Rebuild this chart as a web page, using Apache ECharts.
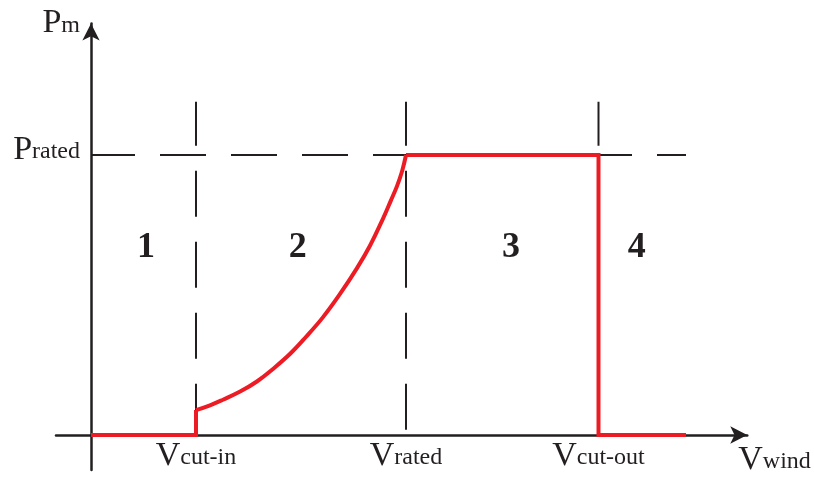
<!DOCTYPE html>
<html>
<head>
<meta charset="utf-8">
<title>Wind turbine power curve</title>
<script src="https://cdn.jsdelivr.net/npm/echarts@6/dist/echarts.min.js"></script>
<style>
  html, body { margin: 0; padding: 0; background: #fff; }
  #chart { width: 814px; height: 477px; }
</style>
</head>
<body>
<div id="chart"></div>
<script>
// wind speed in arbitrary units, power normalised so that P_rated = 1
const V_CUT_IN = 3;
const V_RATED = 9;
const V_CUT_OUT = 14.5;
const V_END = 17;
const P_RATED = 1;

// red power curve
const belowCutIn = [[0, 0], [3, 0], [3, 0.089]];
const rampCurve = [
  [3, 0.089], [3.4, 0.106], [3.77, 0.126], [4.26, 0.155], [4.74, 0.191],
  [5.2, 0.236], [5.69, 0.29], [6.14, 0.35], [6.63, 0.421], [7.11, 0.503],
  [7.6, 0.596], [7.97, 0.676], [8.34, 0.772], [8.57, 0.838], [8.74, 0.888],
  [8.89, 0.943], [9, 1]
];
const aboveRated = [[9, 1], [14.5, 1], [14.5, 0], [17, 0]];

// dashed guide lines
const guideTop = 1.19;
const guideX = [V_CUT_IN, V_RATED, V_CUT_OUT];

// tick labels
const xTickValues = [V_CUT_IN, V_RATED, V_CUT_OUT];
const xTickSubs = ["cut-in", "rated", "cut-out"];
const yTickValues = [P_RATED];
const yTickSubs = ["rated"];

// region numbers
const regionNames = ["1", "2", "3", "4"];
const regionX = [1.57, 5.91, 12, 15.59];
const regionY = [0.67, 0.67, 0.67, 0.67];

const ink = "#231f20";
const red = "#ed1c24";
const serif = "Liberation Serif";

const rich = {
  v: { fontFamily: serif, fontSize: 34, color: ink, verticalAlign: "bottom" },
  s: { fontFamily: serif, fontSize: 24, color: ink, verticalAlign: "bottom", padding: [0, 0, 3, 0] },
};

const chart = echarts.init(document.getElementById("chart"));

const guideStyle = { color: ink, width: 2, type: [46, 25], dashOffset: 2 };

const guideSeries = [
  {
    type: "line",
    symbol: "none",
    silent: true,
    lineStyle: guideStyle,
    data: [[0, P_RATED], [V_END, P_RATED]],
  },
  ...guideX.map((x) => ({
    type: "line",
    symbol: "none",
    silent: true,
    lineStyle: guideStyle,
    data: [[x, guideTop], [x, 0]],
  })),
];

const redStyle = { color: red, width: 4, join: "miter", cap: "butt" };

// labels sit on the grid edge, not on the zero line, so pull them in
chart.setOption({
  animation: false,
  grid: { left: 56, right: 66.75, top: 23.4, bottom: 7, outerBoundsMode: "none", containLabel: false },
  xAxis: {
    type: "value",
    min: -1,
    max: 18.75,
    splitLine: { show: false },
    axisTick: { show: false },
    axisLine: {
      onZero: true,
      lineStyle: { color: ink, width: 2.5 },
      symbol: ["none", "arrow"],
      symbolSize: [13, 17],
    },
    axisLabel: {
      customValues: xTickValues,
      margin: -31,
      hideOverlap: false,
      formatter: (v) => "{v|V}{s|" + xTickSubs[xTickValues.indexOf(v)] + "}",
      rich,
    },
    name: "{v|V}{s|wind}",
    nameLocation: "end",
    nameGap: -9,
    nameTextStyle: { align: "left", verticalAlign: "top", padding: [8, 0, 0, 0], rich },
  },
  yAxis: {
    type: "value",
    min: -0.125,
    max: 1.47,
    splitLine: { show: false },
    axisTick: { show: false },
    axisLine: {
      onZero: true,
      lineStyle: { color: ink, width: 2.5 },
      symbol: ["none", "arrow"],
      symbolSize: [13, 17],
    },
    axisLabel: {
      customValues: yTickValues,
      margin: -24,
      hideOverlap: false,
      padding: [0, 0, 10, 0],
      formatter: (v) => "{v|P}{s|" + yTickSubs[yTickValues.indexOf(v)] + "}",
      rich,
    },
    name: "{v|P}{s|m}",
    nameLocation: "end",
    nameGap: 0,
    nameTextStyle: { align: "right", verticalAlign: "middle", padding: [0, 11, 0, 0], rich },
  },
  series: [
    ...guideSeries,
    { type: "line", symbol: "none", silent: true, lineStyle: redStyle, data: belowCutIn },
    { type: "line", symbol: "none", silent: true, smooth: 0.4, lineStyle: redStyle, data: rampCurve },
    { type: "line", symbol: "none", silent: true, lineStyle: redStyle, data: aboveRated },
    {
      type: "scatter",
      symbolSize: 0,
      silent: true,
      itemStyle: { opacity: 1 },
      label: {
        show: true,
        position: "inside",
        formatter: "{b}",
        fontFamily: serif,
        fontWeight: "bold",
        fontSize: 36,
        color: ink,
        opacity: 1,
      },
      data: regionNames.map((n, i) => ({ name: n, value: [regionX[i], regionY[i]] })),
    },
  ],
});
</script>
</body>
</html>
